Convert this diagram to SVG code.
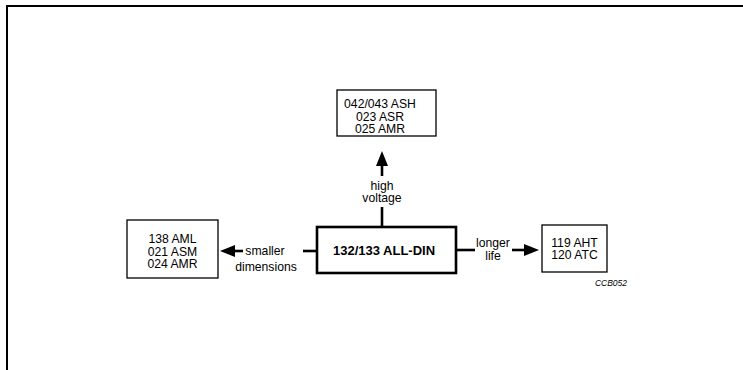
<svg xmlns="http://www.w3.org/2000/svg" width="743" height="370" viewBox="0 0 743 370">
<style>
text{font-family:"Liberation Sans",Arial,sans-serif;font-size:12.2px;fill:#000;text-anchor:middle}
.box{fill:#fff;stroke:#000;stroke-width:1.3}
.main{fill:#fff;stroke:#000;stroke-width:2.6}
.conn{stroke:#000;stroke-width:2.6;fill:none}
.head{fill:#000}
</style>
<rect width="743" height="370" fill="#fff"/>
<path d="M7 370 V6 H743" fill="none" stroke="#000" stroke-width="2"/>
<g id="connectors">
<line class="conn" x1="382" y1="227" x2="382" y2="207"/>
<line class="conn" x1="382" y1="176" x2="382" y2="164"/>
<polygon class="head" points="382,151 376,166 388,166"/>
<line class="conn" x1="316" y1="251" x2="303" y2="251"/>
<line class="conn" x1="243" y1="251" x2="230" y2="251"/>
<polygon class="head" points="220,251 235,245 235,257"/>
<line class="conn" x1="456" y1="250" x2="475" y2="250"/>
<line class="conn" x1="512" y1="250" x2="526" y2="250"/>
<polygon class="head" points="539,250 524,244 524,256"/>
<text x="382" y="189.5">high</text>
<text x="382" y="202">voltage</text>
<text x="265" y="255">smaller</text>
<text x="266" y="271">dimensions</text>
<text x="493" y="247">longer</text>
<text x="493" y="259.5">life</text>
</g>
<g id="top">
<rect class="box" x="337" y="90" width="99" height="46"/>
<text x="380" y="108">042/043 ASH</text>
<text x="380" y="120.5">023 ASR</text>
<text x="380" y="133">025 AMR</text>
</g>
<g id="left">
<rect class="box" x="127" y="220" width="91" height="58"/>
<text x="172.5" y="243">138 AML</text>
<text x="172.5" y="255.5">021 ASM</text>
<text x="172.5" y="268">024 AMR</text>
</g>
<g id="main">
<rect class="main" x="317" y="227" width="139" height="46"/>
<text x="384" y="255" style="font-weight:bold;font-size:13px">132/133 ALL-DIN</text>
</g>
<g id="right">
<rect class="box" x="542" y="225" width="65" height="47"/>
<text x="574.5" y="246.5">119 AHT</text>
<text x="574.5" y="259">120 ATC</text>
</g>
<text x="611" y="286" style="font-size:8.5px;font-style:italic">CCB052</text>
</svg>
